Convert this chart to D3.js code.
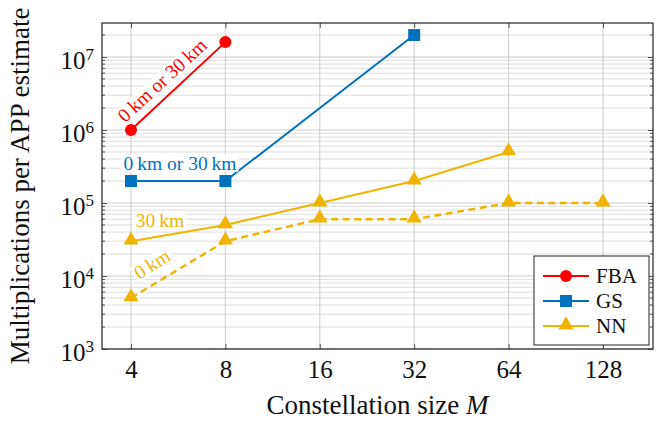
<!DOCTYPE html>
<html>
<head>
<meta charset="utf-8">
<script src="https://cdn.jsdelivr.net/npm/d3@7"></script>
<style>
body { margin: 0; background: #fff; }
svg text { font-family: "Liberation Serif", "Times New Roman", serif; }
</style>
</head>
<body>
<div id="chart"></div>
<script>
var sizes = [4, 8, 16, 32, 64, 128]
var fbaSizes = [4, 8]
var fbaValues = [1e6, 1.6e7]
var gsSizes = [4, 8, 32]
var gsValues = [2e5, 2e5, 2e7]
var nn30Sizes = [4, 8, 16, 32, 64]
var nn30Values = [3e4, 5e4, 1e5, 2e5, 5e5]
var nn0Sizes = [4, 8, 16, 32, 64, 128]
var nn0Values = [5e3, 3e4, 6e4, 6e4, 1e5, 1e5]
var yTicks = [1e3, 1e4, 1e5, 1e6, 1e7]
var legendNames = ['FBA', 'GS', 'NN']

var colors = { red: '#ff0000', blue: '#0072bd', yellow: '#f0b400' }

var width = 672, height = 421
var margin = { top: 23, right: 19, bottom: 72, left: 102 }
var chartWidth = width - margin.left - margin.right
var chartHeight = height - margin.top - margin.bottom

var svg = d3.select('#chart').append('svg')
	.attr('width', width)
	.attr('height', height)

var chartInner = svg.append('g')
	.attr('transform', 'translate(' + margin.left + ',' + margin.top + ')')

var xScale = d3.scaleLog().base(2)
	.domain([Math.pow(2, 1.693), Math.pow(2, 7.53)])
	.range([0, chartWidth])

var yScale = d3.scaleLog()
	.domain([1e3, Math.pow(10, 7.466)])
	.range([chartHeight, 0])

// minor ticks 2..9 per decade
var minorTicks = []
for (var e = 3; e <= 7; e++) {
	for (var m = 2; m <= 9; m++) {
		var v = m * Math.pow(10, e)
		if (v < yScale.domain()[1]) minorTicks.push(v)
	}
}

// grid
chartInner.selectAll('.minor-grid')
	.data(minorTicks)
	.enter().append('line')
	.attr('x1', 0).attr('x2', chartWidth)
	.attr('y1', function(d) { return yScale(d) })
	.attr('y2', function(d) { return yScale(d) })
	.attr('stroke', '#dedede')
	.attr('stroke-width', 1)

chartInner.selectAll('.major-grid')
	.data(yTicks)
	.enter().append('line')
	.attr('x1', 0).attr('x2', chartWidth)
	.attr('y1', function(d) { return yScale(d) })
	.attr('y2', function(d) { return yScale(d) })
	.attr('stroke', '#cccccc')
	.attr('stroke-width', 1)

chartInner.selectAll('.x-grid')
	.data(sizes)
	.enter().append('line')
	.attr('x1', function(d) { return xScale(d) })
	.attr('x2', function(d) { return xScale(d) })
	.attr('y1', 0).attr('y2', chartHeight)
	.attr('stroke', '#cccccc')
	.attr('stroke-width', 1)

// axes with inner ticks
chartInner.append('g')
	.attr('transform', 'translate(0,' + chartHeight + ')')
	.call(d3.axisBottom(xScale).tickValues(sizes).tickFormat(d3.format('d'))
		.tickSizeInner(-5).tickSizeOuter(0).tickPadding(11))
	.call(function(g) {
		g.select('.domain').remove()
		g.selectAll('line').attr('stroke', '#555')
		g.selectAll('text').attr('font-size', 25).attr('fill', '#111')
	})

chartInner.append('g')
	.call(d3.axisTop(xScale).tickValues(sizes).tickFormat('')
		.tickSizeInner(-5).tickSizeOuter(0))
	.call(function(g) {
		g.select('.domain').remove()
		g.selectAll('line').attr('stroke', '#555')
	})

var yLeft = chartInner.append('g')
	.call(d3.axisLeft(yScale).tickValues(yTicks).tickFormat('')
		.tickSizeInner(-5).tickSizeOuter(0))
yLeft.select('.domain').remove()
yLeft.selectAll('line').attr('stroke', '#555')

var yRight = chartInner.append('g')
	.attr('transform', 'translate(' + chartWidth + ',0)')
	.call(d3.axisRight(yScale).tickValues(yTicks).tickFormat('')
		.tickSizeInner(-5).tickSizeOuter(0))
yRight.select('.domain').remove()
yRight.selectAll('line').attr('stroke', '#555')

// minor tick marks
;[0, chartWidth].forEach(function(x0) {
	var dir = x0 === 0 ? 1 : -1
	chartInner.selectAll(null)
		.data(minorTicks)
		.enter().append('line')
		.attr('x1', x0).attr('x2', x0 + dir * 3)
		.attr('y1', function(d) { return yScale(d) })
		.attr('y2', function(d) { return yScale(d) })
		.attr('stroke', '#555')
})

// y tick labels 10^n
var yLabels = chartInner.selectAll('.ylab')
	.data(yTicks)
	.enter().append('text')
	.attr('x', -8)
	.attr('y', function(d) { return yScale(d) + 12 })
	.attr('text-anchor', 'end')
	.attr('font-size', 25)
	.attr('fill', '#111')
yLabels.append('tspan').text('10')
yLabels.append('tspan')
	.attr('dy', -9)
	.attr('font-size', 17)
	.text(function(d) { return Math.round(Math.log10(d)) })

// frame
chartInner.append('rect')
	.attr('width', chartWidth).attr('height', chartHeight)
	.attr('fill', 'none').attr('stroke', '#222').attr('stroke-width', 1.2)

// axis titles
var xt = svg.append('text')
	.attr('x', margin.left + chartWidth / 2)
	.attr('y', 414)
	.attr('text-anchor', 'middle')
	.attr('font-size', 27)
	.attr('fill', '#111')
xt.append('tspan').text('Constellation size ')
xt.append('tspan').attr('font-style', 'italic').text('M')

svg.append('text')
	.attr('transform', 'translate(29,186) rotate(-90)')
	.attr('text-anchor', 'middle')
	.attr('font-size', 27)
	.attr('fill', '#111')
	.text('Multiplications per APP estimate')

var line = d3.line()
	.x(function(d) { return xScale(d[0]) })
	.y(function(d) { return yScale(d[1]) })

function zip(a, b) { return a.map(function(v, i) { return [v, b[i]] }) }

var tri = d3.symbol().type(d3.symbolTriangle).size(100)

function drawSeries(xs, ys, color, marker, dashed) {
	var pts = zip(xs, ys)
	chartInner.append('path')
		.datum(pts)
		.attr('d', line)
		.attr('fill', 'none')
		.attr('stroke', color)
		.attr('stroke-width', dashed ? 2.4 : 2)
		.attr('stroke-dasharray', dashed ? '7,4.5' : null)
	drawMarkers(chartInner, pts.map(function(p) { return [xScale(p[0]), yScale(p[1])] }), color, marker)
}

function drawMarkers(g, pts, color, marker) {
	pts.forEach(function(p) {
		if (marker === 'circle') {
			g.append('circle').attr('cx', p[0]).attr('cy', p[1]).attr('r', 6).attr('fill', color)
		} else if (marker === 'square') {
			g.append('rect').attr('x', p[0] - 6).attr('y', p[1] - 6)
				.attr('width', 12).attr('height', 12).attr('fill', color)
		} else {
			g.append('path').attr('d', tri)
				.attr('transform', 'translate(' + p[0] + ',' + (p[1] - 1) + ')')
				.attr('fill', color)
		}
	})
}

function label(txt, x, y, angle, color) {
	var g = chartInner.append('g')
		.attr('transform', 'translate(' + x + ',' + y + ') rotate(' + angle + ')')
	var t = g.append('text')
		.attr('text-anchor', 'middle')
		.attr('dy', '0.35em')
		.attr('font-size', 19.5)
		.attr('fill', color)
		.text(txt)
	var bb = t.node().getBBox()
	g.insert('rect', 'text')
		.attr('x', bb.x - 2).attr('y', bb.y + 2)
		.attr('width', bb.width + 4).attr('height', bb.height - 4)
		.attr('fill', '#fff')
}

drawSeries(nn0Sizes, nn0Values, colors.yellow, 'triangle', true)
drawSeries(nn30Sizes, nn30Values, colors.yellow, 'triangle', false)
drawSeries(gsSizes, gsValues, colors.blue, 'square', false)
drawSeries(fbaSizes, fbaValues, colors.red, 'circle', false)

label('0\u2009km or 30\u2009km', 162 - margin.left, 80 - margin.top, -42.5, colors.red)
label('0\u2009km or 30\u2009km', 180 - margin.left, 163 - margin.top, 0, colors.blue)
label('30\u2009km', 160 - margin.left, 220 - margin.top, 0, colors.yellow)
label('0\u2009km', 152 - margin.left, 264 - margin.top, -32, colors.yellow)

// legend
var legend = svg.append('g').attr('transform', 'translate(534,256)')
legend.append('rect')
	.attr('width', 115).attr('height', 89)
	.attr('fill', '#fff').attr('stroke', '#222').attr('stroke-width', 1)
var legendColors = [colors.red, colors.blue, colors.yellow]
var legendMarkers = ['circle', 'square', 'triangle']
legendNames.forEach(function(name, i) {
	var y = 20 + i * 25
	legend.append('line')
		.attr('x1', 9).attr('x2', 55).attr('y1', y).attr('y2', y)
		.attr('stroke', legendColors[i]).attr('stroke-width', 2)
	drawMarkers(legend, [[32, y]], legendColors[i], legendMarkers[i])
	legend.append('text')
		.attr('x', 62).attr('y', y + 7)
		.attr('font-size', 21)
		.attr('fill', '#111')
		.text(name)
})
</script>
</body>
</html>
